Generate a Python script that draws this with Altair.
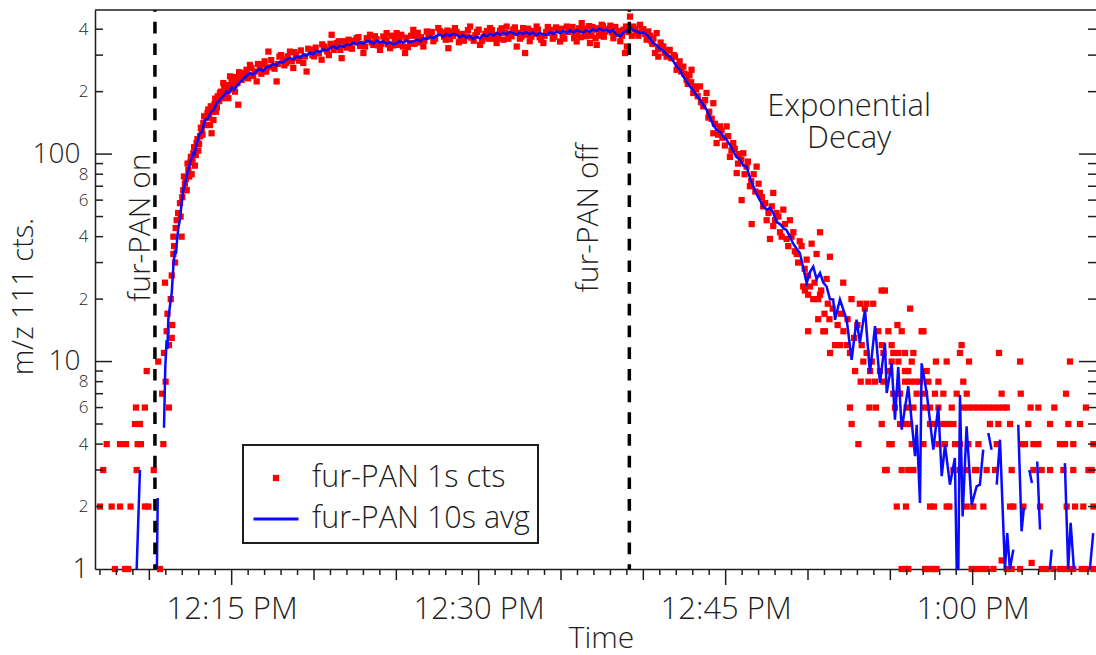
import altair as alt
import pandas as pd

# ---------------- data (minutes after 12:00 noon, counts) ----------------
# red 1 s counts, before and just after fur-PAN switched on
red_pre = [(7.00, 2), (7.20, 3), (7.41, 4), (7.71, 2), (7.91, 1), (8.22, 2), (8.22, 4), (8.52, 1),
           (8.58, 4), (8.72, 1), (8.86, 2), (9.13, 5), (9.19, 6), (9.23, 3), (9.29, 4), (9.43, 5),
           (9.49, 4), (9.73, 2), (9.73, 6), (9.84, 9), (9.94, 2), (10.27, 3), (10.54, 10), (10.65, 1),
           (10.78, 7), (10.85, 4), (10.89, 11), (10.99, 8)]
# red 1 s counts, rise
red_rise = [(10.95, 24), (11.05, 14), (11.19, 12), (11.19, 6), (11.36, 13), (11.39, 15), (11.36, 26),
            (11.46, 33), (11.46, 40), (11.56, 30), (11.66, 48), (11.86, 58), (11.96, 40), (12.06, 67),
            (12.16, 72), (12.27, 67), (12.37, 84), (12.47, 91), (12.57, 80), (12.67, 101), (12.77, 88),
            (12.87, 113), (12.97, 104), (13.08, 122), (13.18, 131), (13.28, 141), (13.48, 150),
            (13.58, 164), (13.68, 138), (13.78, 126), (13.89, 146), (14.00, 185), (14.10, 168),
            (14.29, 197), (14.49, 220), (14.60, 205), (14.80, 186), (14.90, 237), (15.00, 222),
            (15.20, 200), (15.40, 173), (15.50, 232), (15.71, 246), (15.90, 255), (16.11, 269),
            (16.30, 238), (16.52, 224), (16.72, 255), (16.90, 270), (17.10, 250), (17.23, 312),
            (17.53, 264), (17.73, 224), (17.90, 295), (18.14, 285), (18.30, 275), (18.54, 312),
            (18.74, 260), (18.90, 300), (19.10, 282), (19.35, 275), (19.55, 250), (19.80, 318),
            (20.00, 296), (20.16, 307), (20.46, 285), (20.60, 330), (20.80, 312), (21.07, 376),
            (21.20, 318), (21.38, 343), (21.68, 290), (21.80, 350), (22.00, 326), (22.19, 330),
            (22.40, 352), (22.59, 362), (22.80, 332), (23.00, 307), (23.20, 362), (23.40, 376),
            (23.60, 336), (23.80, 358)]
red_rise_more = [(11.10, 17), (11.30, 20), (11.50, 36), (11.60, 44), (11.75, 52), (11.90, 50), (12.00, 62),
                 (12.10, 78), (12.22, 76), (12.32, 90), (12.42, 78), (12.52, 97), (12.62, 94), (12.72, 108),
                 (12.82, 99), (12.92, 118), (13.02, 112), (13.13, 134), (13.23, 124), (13.33, 152),
                 (13.43, 138), (13.53, 158), (13.63, 150), (13.73, 170), (13.84, 160), (13.95, 174),
                 (14.05, 160), (14.15, 190), (14.24, 180), (14.35, 200), (14.44, 186), (14.55, 212),
                 (14.65, 194), (14.75, 215), (14.85, 205), (14.95, 210), (15.05, 232), (15.15, 215),
                 (15.25, 235), (15.35, 220), (15.45, 248), (15.60, 228), (15.80, 240), (16.00, 232),
                 (16.20, 260), (16.40, 250), (16.60, 272), (16.80, 244), (17.00, 280), (17.20, 262),
                 (17.40, 284), (17.60, 258), (17.80, 272), (18.00, 300), (18.20, 268), (18.40, 296),
                 (18.65, 280), (18.80, 310), (19.00, 290), (19.20, 316), (19.45, 296), (19.65, 322),
                 (19.90, 300), (20.10, 326), (20.30, 306), (20.50, 338), (20.70, 320), (20.90, 300),
                 (21.00, 340), (21.30, 330), (21.50, 350), (21.60, 318), (21.90, 340), (22.10, 356),
                 (22.30, 322), (22.50, 346), (22.70, 366), (22.90, 340), (23.10, 330), (23.30, 358),
                 (23.50, 345), (23.70, 370), (23.90, 334)]
# red 1 s counts, plateau
red_plateau = [(24.01, 318), (24.21, 369), (24.40, 352), (24.41, 383), (24.62, 324), (24.80, 334),
               (25.02, 383), (25.05, 369), (25.20, 360), (25.53, 307), (25.70, 328), (25.83, 343),
               (26.03, 397), (26.20, 372), (26.40, 345), (26.64, 330), (26.85, 390), (27.05, 369),
               (27.25, 350), (27.55, 405), (27.80, 385), (28.00, 356), (28.16, 324), (28.35, 390),
               (28.56, 405), (28.80, 346), (29.00, 380), (29.27, 369), (29.48, 412), (29.70, 352),
               (29.90, 388), (30.08, 336), (30.30, 366), (30.50, 392), (30.69, 405), (30.90, 360),
               (31.09, 343), (31.30, 394), (31.50, 356), (31.70, 412), (31.90, 380), (32.10, 398),
               (32.31, 330), (32.50, 360), (32.70, 405), (32.82, 307), (32.92, 376), (33.10, 350),
               (33.30, 392), (33.52, 412), (33.70, 366), (33.93, 343), (34.10, 388), (34.33, 397),
               (34.50, 360), (34.70, 408), (34.94, 349), (35.10, 372), (35.35, 412), (35.60, 392),
               (35.80, 362), (35.95, 349), (36.10, 404), (36.26, 428), (36.50, 370), (36.76, 343),
               (36.90, 410), (37.17, 336), (37.30, 372), (37.47, 420), (37.70, 390), (37.98, 405),
               (38.00, 416), (38.18, 362), (38.40, 380), (38.60, 350), (38.80, 398), (38.89, 307),
               (39.00, 330), (39.19, 460), (39.40, 412), (39.60, 386), (39.80, 420), (40.00, 400),
               (40.20, 356), (40.40, 372), (40.61, 362), (40.91, 295)]
red_plateau_more = [(24.10, 340), (24.30, 362), (24.50, 338), (24.70, 372), (24.90, 350), (25.10, 336),
                    (25.30, 376), (25.40, 330), (25.60, 364), (25.90, 372), (26.10, 340), (26.30, 384),
                    (26.50, 366), (26.70, 352), (26.95, 372), (27.15, 388), (27.35, 360), (27.65, 392),
                    (27.90, 368), (28.10, 394), (28.25, 358), (28.45, 372), (28.65, 388), (28.90, 368),
                    (29.10, 352), (29.35, 396), (29.55, 364), (29.80, 374), (30.00, 398), (30.20, 352),
                    (30.40, 380), (30.60, 360), (30.80, 396), (31.00, 374), (31.20, 362), (31.40, 404),
                    (31.60, 384), (31.80, 360), (32.00, 370), (32.20, 408), (32.40, 384), (32.60, 368),
                    (32.80, 396), (33.00, 402), (33.20, 368), (33.40, 380), (33.60, 398), (33.80, 356),
                    (34.00, 372), (34.20, 410), (34.40, 384), (34.60, 368), (34.80, 396), (35.00, 402),
                    (35.20, 360), (35.45, 388), (35.70, 410), (35.85, 376), (36.00, 388), (36.20, 366),
                    (36.40, 402), (36.60, 384), (36.70, 414), (36.85, 372), (37.00, 398), (37.10, 362),
                    (37.25, 404), (37.40, 380), (37.55, 414), (37.60, 368), (37.85, 400), (38.10, 386),
                    (38.30, 410), (38.50, 392), (38.70, 372), (38.95, 412), (39.10, 388), (39.30, 372),
                    (39.50, 400), (39.70, 372), (39.90, 394), (40.10, 380), (40.30, 390), (40.50, 350)]
# red 1 s counts, exponential decay
red_decay = [(40.71, 307), (40.81, 383), (41.10, 330), (41.21, 330), (41.41, 295), (41.60, 318),
             (41.92, 295), (42.02, 255), (42.20, 280), (42.43, 264), (42.63, 228), (42.80, 240),
             (42.93, 255), (43.03, 197), (43.20, 205), (43.44, 212), (43.64, 170), (43.84, 197),
             (44.00, 160), (44.25, 176), (44.25, 126), (44.45, 113), (44.65, 136), (44.80, 120),
             (45.06, 136), (45.26, 97), (45.46, 113), (45.67, 81), (45.80, 100), (45.97, 60),
             (46.07, 101), (46.27, 87), (46.47, 70), (46.58, 46), (46.70, 80), (46.88, 87),
             (47.08, 65), (47.28, 56), (47.49, 48), (47.69, 39), (47.89, 65), (47.89, 45),
             (48.09, 52), (48.30, 42), (48.50, 54), (48.70, 39), (48.90, 48), (49.11, 42),
             (49.31, 33), (49.61, 36), (49.71, 23), (49.81, 22), (49.92, 31), (50.01, 21),
             (50.01, 14), (50.12, 23), (50.22, 37), (50.32, 20), (50.52, 33), (50.62, 16),
             (50.62, 20), (50.73, 42), (50.73, 21), (50.93, 14), (51.13, 25), (51.33, 32),
             (51.00, 17), (51.30, 16), (51.50, 18), (51.80, 15), (52.00, 17), (52.40, 16),
             (52.80, 13), (53.00, 15), (52.14, 24), (52.64, 20), (53.15, 19), (53.45, 18),
             (53.55, 19), (53.96, 19), (54.47, 22), (54.67, 22), (61.76, 1.1), (63.58, 1.07)]
red_decay_more = [(40.55, 340), (40.90, 320), (41.05, 345), (41.30, 308), (41.50, 316), (41.70, 290),
                  (41.85, 300), (42.10, 268), (42.30, 250), (42.50, 244), (42.70, 218), (42.90, 222),
                  (43.10, 212), (43.30, 190), (43.50, 178), (43.75, 182), (43.95, 150), (44.15, 148),
                  (44.35, 140), (44.55, 124), (44.75, 130), (44.95, 110), (45.15, 122), (45.35, 104),
                  (45.55, 106), (45.75, 90), (45.95, 94), (46.15, 80), (46.35, 92), (46.55, 74),
                  (46.80, 66), (47.00, 72), (47.20, 62), (47.40, 58), (47.60, 52), (47.80, 56),
                  (48.00, 48), (48.20, 50), (48.40, 40), (48.60, 46), (48.80, 36), (49.00, 40),
                  (49.20, 34), (49.40, 30), (49.50, 38), (49.80, 28), (50.00, 26), (50.40, 24),
                  (50.80, 22), (51.20, 19)]
# red 1 s counts in the low-count tail, grouped by count level
tail_rows = {
    1: [55.69, 55.95, 56.09, 57.11, 57.31, 57.51, 57.71, 57.81, 59.94, 60.24, 60.55, 60.85, 61.26,
        62.07, 62.37, 62.88, 64.19, 64.49, 64.90, 65.30, 65.61, 65.87, 66.11, 66.62, 66.92, 67.33],
    2: [55.39, 55.95, 57.41, 57.65, 58.42, 58.58, 59.64, 60.04, 60.65, 62.27, 62.47, 63.08, 64.09,
        65.71, 66.22, 66.72, 67.33],
    3: [54.68, 54.78, 55.69, 56.09, 56.40, 58.83, 59.23, 59.64, 60.14, 60.24, 60.85, 61.36, 62.37,
        63.69, 64.19, 64.70, 65.51, 66.11, 67.03, 67.23],
    4: [53.06, 54.94, 55.08, 56.30, 57.01, 57.92, 58.32, 58.93, 59.23, 59.74, 60.35, 61.46, 62.98,
        63.18, 63.69, 63.99, 65.30, 65.61, 66.11, 67.33],
    5: [52.65, 54.48, 55.59, 55.89, 56.20, 57.41, 57.71, 58.22, 58.52, 58.83, 61.05, 61.56, 62.27,
        63.38, 64.70, 65.81, 66.52],
    6: [52.55, 53.73, 54.13, 55.28, 55.99, 56.40, 57.11, 57.41, 57.92, 58.73, 59.43, 59.74, 60.04,
        60.35, 60.65, 60.95, 61.26, 61.56, 61.86, 62.07, 63.52, 63.99, 64.96, 66.88],
    7: [55.18, 55.59, 56.60, 57.11, 57.71, 58.22, 59.03, 59.64, 61.76, 62.92, 65.67],
    8: [53.20, 53.67, 54.07, 54.58, 55.89, 56.20, 56.50, 56.80, 57.31, 57.92, 59.43],
    9: [52.86, 53.77, 54.37, 54.98, 55.89, 56.09, 57.21],
    10: [53.36, 53.87, 55.08, 55.49, 56.30, 57.77, 58.42, 59.78, 62.88, 65.91],
    11: [51.34, 52.55, 53.56, 54.58, 55.18, 55.49, 55.89, 56.40, 59.23, 61.60],
    12: [51.64, 51.94, 52.35, 53.26, 54.48, 55.08, 59.33],
    14: [51.03, 52.15, 54.27, 54.88, 55.69, 56.90, 57.01],
    15: [55.43],
    18: [56.20],
}

# blue 10 s average (None = gap in the trace)
blue_rise = [(9.23, 1), (9.43, 3.0), (9.60, None), (10.46, 1), (10.51, 2.2), (10.70, None),
             (10.89, 4.8), (10.97, 9.5), (11.05, 12.7), (11.10, 11.5), (11.15, 15.9), (11.25, 18.5),
             (11.36, 21.4), (11.46, 29), (11.56, 34.6), (11.62, 33), (11.70, 40), (11.78, 45),
             (11.86, 48.2), (11.96, 58), (12.06, 67.3), (12.20, 74), (12.36, 84), (12.50, 92),
             (12.67, 101), (12.75, 100), (12.87, 112), (13.07, 126), (13.20, 128), (13.38, 146),
             (13.55, 148), (13.75, 160), (13.90, 163), (14.09, 176), (14.30, 184), (14.50, 190),
             (14.70, 200), (14.85, 197), (15.00, 210), (15.15, 205), (15.30, 212), (15.50, 222),
             (15.70, 230), (15.90, 238), (16.11, 246), (16.30, 242), (16.50, 250), (16.70, 257),
             (16.90, 252), (17.10, 262), (17.33, 264), (17.50, 272), (17.70, 268), (17.90, 278),
             (18.10, 276), (18.30, 285), (18.54, 290), (18.75, 286), (18.95, 296), (19.15, 292),
             (19.35, 302), (19.55, 298), (19.75, 307), (19.95, 303), (20.15, 314), (20.35, 310),
             (20.55, 320), (20.75, 316), (20.97, 324), (21.20, 330), (21.40, 322), (21.60, 334),
             (21.80, 328), (22.00, 338), (22.18, 336), (22.40, 344), (22.60, 338), (22.80, 346),
             (23.00, 340), (23.20, 350), (23.40, 349), (23.60, 341), (23.80, 352)]
blue_plateau = [(24.00, 345), (24.20, 349), (24.40, 340), (24.60, 346), (24.80, 338), (25.00, 342),
                (25.20, 350), (25.40, 344), (25.60, 352), (25.80, 346), (26.03, 349), (26.25, 356),
                (26.45, 350), (26.65, 362), (26.85, 358), (27.05, 368), (27.25, 362), (27.45, 372),
                (27.65, 376), (27.85, 368), (28.05, 378), (28.25, 372), (28.45, 380), (28.66, 376),
                (28.85, 366), (29.05, 374), (29.25, 364), (29.45, 372), (29.65, 358), (29.85, 368),
                (30.08, 362), (30.30, 376), (30.50, 370), (30.70, 380), (30.90, 372), (31.10, 384),
                (31.30, 376), (31.50, 386), (31.70, 378), (31.90, 388), (32.10, 383), (32.30, 376),
                (32.50, 386), (32.70, 380), (32.90, 388), (33.10, 378), (33.30, 386), (33.50, 374),
                (33.70, 384), (33.90, 378), (34.13, 376), (34.35, 386), (34.55, 380), (34.75, 390),
                (34.95, 382), (35.15, 392), (35.35, 384), (35.55, 394), (35.75, 386), (35.95, 396),
                (36.15, 390), (36.35, 384), (36.55, 396), (36.75, 388), (36.95, 400), (37.15, 392),
                (37.35, 402), (37.55, 394), (37.77, 397), (37.95, 388), (38.15, 396), (38.35, 378),
                (38.58, 369), (38.80, 386), (39.00, 392), (39.19, 405), (39.40, 396), (39.60, 390),
                (39.80, 383), (40.00, 386), (40.20, 376)]
blue_decay = [(40.40, 362), (40.60, 342), (40.80, 336), (41.00, 322), (41.20, 316), (41.40, 302),
              (41.62, 295), (41.80, 282), (42.00, 266), (42.22, 255), (42.40, 238), (42.60, 226),
              (42.83, 212), (43.00, 204), (43.20, 194), (43.44, 183), (43.65, 172), (43.85, 163),
              (44.05, 150), (44.25, 138), (44.45, 131), (44.65, 128), (44.85, 122), (45.06, 117),
              (45.25, 111), (45.45, 104), (45.65, 97), (45.87, 94), (46.07, 88), (46.27, 87),
              (46.47, 77), (46.68, 70), (46.88, 64), (47.08, 60), (47.28, 56), (47.50, 54),
              (47.70, 55), (47.89, 52), (48.10, 47), (48.30, 46), (48.50, 44), (48.70, 43),
              (48.90, 40), (49.10, 37), (49.31, 35), (49.51, 33.3), (49.72, 28), (49.92, 23.9),
              (50.12, 27), (50.32, 28.7), (50.52, 25), (50.73, 26.7), (50.93, 24), (51.13, 23),
              (51.33, 20), (51.53, 19.9), (51.64, 15.9)]
blue_tail = [(51.94, 19.9), (52.35, 15.9), (52.65, 10.2), (52.95, 15.9), (53.15, 12.3), (53.46, 17.8),
             (53.76, 8.8), (54.07, 14.8), (54.37, 7.9), (54.67, 12.3), (54.78, 7.05), (55.08, 9.8),
             (55.28, 5.24), (55.48, 9.4), (55.69, 4.7), (56.09, 7.6), (56.50, 3.5), (56.60, 4.96),
             (56.80, 2.08), (56.90, 9.8), (57.21, 7.05), (57.61, 3.76), (57.91, 6.1), (58.12, 2.8),
             (58.32, 3.97), (58.62, 2.55), (58.92, 3.43), (59.03, 1), (59.13, 1), (59.23, 6.9),
             (59.39, 1.79), (59.63, 4.87), (59.94, 2.04), (60.24, 2.5), (60.44, 2.55), (60.64, 3.76),
             (60.80, None), (60.95, 4.52), (61.15, 3.76), (61.30, None), (61.46, 2.55), (61.66, 4.2),
             (61.96, 1), (62.10, 1.49), (62.26, 1), (62.47, 1.24), (62.60, None), (62.77, 4.96),
             (62.97, 1.52), (63.11, 1.97), (63.25, None), (63.44, 3.0), (63.60, 2.6), (63.75, None),
             (63.92, 3.3), (64.09, 1.55), (64.40, None), (64.69, 1), (64.80, 1.24), (65.20, None),
             (65.60, 3.24), (65.80, 1), (65.95, 1.67), (66.15, 1), (66.60, None), (67.12, 1),
             (67.32, 1.49)]

# instrument events (dashed lines) and annotations
event_t = [10.34, 39.15]
vtext = ["fur-PAN on", "fur-PAN off"]
vtext_t = [10.04, 37.24]
vtext_v = [44.2, 49.3]
decay_text = "Exponential\nDecay"
decay_t = 52.50
decay_v = 152

series = ["fur-PAN 1s cts", "fur-PAN 10s avg"]

x_label_vals = [15, 30, 45, 60]
x_label_text = ["12:15 PM", "12:30 PM", "12:45 PM", "1:00 PM"]
y_label_vals = [1, 2, 4, 6, 8, 10, 20, 40, 60, 80, 100, 200, 400]
y_label_text = ["1", "2", "4", "6", "8", "10", "2", "4", "6", "8", "100", "2", "4"]
y_minor_ticks = [2, 3, 4, 5, 6, 7, 8, 9, 20, 30, 40, 50, 60, 70, 80, 90, 200, 300, 400]
y_major_ticks = [10, 100]

# ---------------- build tables ----------------
red_pairs = red_pre + red_rise + red_rise_more + red_plateau + red_plateau_more + red_decay + red_decay_more
for lvl, ts in tail_rows.items():
    red_pairs = red_pairs + [(t, lvl) for t in ts]
red_df = pd.DataFrame(red_pairs, columns=["t", "v"])
red_df["s"] = series[0]
blue_df = pd.DataFrame(blue_rise + blue_plateau + blue_decay + blue_tail, columns=["t", "v"])

x_all = list(range(7, 68))
x_major = [m for m in x_all if m % 15 == 0]
x_mid = [m for m in x_all if m % 5 == 0 and m % 15 != 0]
x_minor = [m for m in x_all if m % 5 != 0]

# ---------------- styling ----------------
FONT = "Open Sans"
FW = 300
INK = "#1e1e1e"
W, H = 1001, 559
xs = alt.Scale(domain=[6.70, 67.49], nice=False, zero=False)
ys = alt.Scale(type="log", domain=[1, 495], nice=False)

SQ = "M-0.125,-0.125H0.125V0.125H-0.125Z"
LN = "M-0.9,-0.06H0.9V0.06H-0.9Z"

x_expr = " : ".join(f"datum.value == {v} ? '{s}'" for v, s in zip(x_label_vals, x_label_text)) + " : ''"
y_expr = " : ".join(f"datum.value == {v} ? '{s}'" for v, s in zip(y_label_vals, y_label_text)) + " : ''"

xaxis = alt.Axis(values=x_label_vals, labelExpr=x_expr, ticks=False, tickSize=0,
                 domain=True, domainColor=INK, domainWidth=1.5, grid=False,
                 labelFont=FONT, labelFontWeight=FW, labelFontSize=31, labelColor=INK,
                 labelBaseline="alphabetic", labelPadding=49, labelFlush=False, labelOverlap=False,
                 title="Time", titleFont=FONT, titleFontSize=30, titleFontWeight=FW,
                 titleColor=INK, titleX=506, titleY=78, titleBaseline="alphabetic", titleAnchor="middle")
yaxis = alt.Axis(values=y_label_vals, labelExpr=y_expr, ticks=False, tickSize=0,
                 domain=True, domainColor=INK, domainWidth=1.5, grid=False,
                 labelFont=FONT, labelFontWeight=FW, labelColor=INK, labelOverlap=False, labelFlush=False,
                 labelFontSize={"condition": {"test": "datum.value == 1 || datum.value == 10 || datum.value == 100",
                                              "value": 28}, "value": 17},
                 labelPadding={"condition": {"test": "datum.value == 10 || datum.value == 100",
                                             "value": 15}, "value": 7},
                 title="m/z 111 cts.", titleFont=FONT, titleFontSize=29, titleFontWeight=FW,
                 titleColor=INK, titleX=-63, titleY=286, titleBaseline="alphabetic", titleAngle=270)

leg = alt.Legend(title=None, orient="none", legendX=148, legendY=435, fillColor="white",
                 strokeColor=INK, padding=8, symbolSize=2500, symbolStrokeWidth=0,
                 labelFont=FONT, labelFontWeight=FW, labelFontSize=30.5, labelColor=INK, labelOffset=11,
                 labelLimit=500, rowPadding=0, symbolOpacity=1)

X = alt.X("t:Q", scale=xs, axis=xaxis)
Y = alt.Y("v:Q", scale=ys, axis=yaxis)

points = alt.Chart(red_df).mark_point(filled=True, size=2500, opacity=1, strokeWidth=0).encode(
    x=X, y=Y,
    color=alt.Color("s:N", scale=alt.Scale(domain=series, range=["#ff0000", "#0a0aff"]), legend=leg),
    shape=alt.Shape("s:N", scale=alt.Scale(domain=series, range=[SQ, LN]), legend=leg),
)

line = alt.Chart(blue_df).mark_line(color="#0a0aff", strokeWidth=2.5,
                                    invalid="break-paths-filter-domains").encode(x=X, y=Y)

events = alt.Chart(pd.DataFrame({"t": event_t})).mark_rule(
    color="black", strokeWidth=3.5, strokeDash=[11.7, 10], strokeDashOffset=10
).encode(x=X)

vlabels = alt.Chart(pd.DataFrame({"t": vtext_t, "v": vtext_v, "txt": vtext})).mark_text(
    angle=270, align="center", baseline="alphabetic", font=FONT, fontWeight=FW, fontSize=30, color=INK
).encode(x=X, y=Y, text="txt:N")

hlabels = alt.Chart(pd.DataFrame({"t": [decay_t], "v": [decay_v], "txt": [decay_text]})).mark_text(
    align="center", baseline="alphabetic", font=FONT, fontWeight=FW, fontSize=31, color=INK,
    lineBreak="\n", lineHeight=31.6
).encode(x=X, y=Y, text="txt:N")

# top frame line (plot border)
frame_top = alt.Chart(pd.DataFrame({"t": [0]})).mark_rule(color=INK, strokeWidth=1.5).encode(
    x=alt.value(0), x2=alt.value(W + 5), y=alt.value(0))


def yticks(vals, length):
    df = pd.DataFrame({"v": vals})
    base = alt.Chart(df).mark_rule(color=INK, strokeWidth=1.5)
    left = base.encode(y=Y, x=alt.value(0), x2=alt.value(length))
    right = base.encode(y=Y, x=alt.value(W), x2=alt.value(W - length))
    return [left, right]


def xticks(vals, length):
    df = pd.DataFrame({"t": vals})
    return alt.Chart(df).mark_rule(color=INK, strokeWidth=1.5).encode(
        x=X, y=alt.value(H), y2=alt.value(H + length))


layers = [points, line, events, vlabels, hlabels, frame_top]
layers += yticks(y_minor_ticks, 8) + yticks(y_major_ticks, 17)
layers += [xticks(x_minor, 6), xticks(x_mid, 11), xticks(x_major, 16)]

chart = alt.layer(*layers).properties(
    width=W, height=H,
    autosize=alt.AutoSizeParams(type="none"),
    padding={"left": 95, "top": 10, "right": 0, "bottom": 86},
).configure_view(strokeWidth=0).configure_legend(strokeWidth=2)

chart.save("out.html", embed_options={"renderer": "svg", "actions": False})
